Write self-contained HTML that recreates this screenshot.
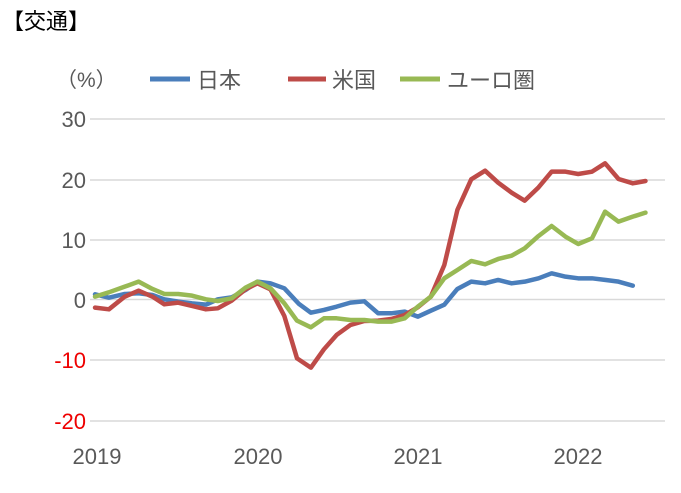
<!DOCTYPE html>
<html><head><meta charset="utf-8"><style>
body{margin:0;background:#fff;}
svg text{font-family:"Liberation Sans","Noto Sans CJK JP",sans-serif;}
</style></head><body>
<svg width="681" height="488" xmlns="http://www.w3.org/2000/svg">
<rect width="681" height="488" fill="#fff"/>
<text x="2" y="29" font-size="22" fill="#000">【交通】</text>
<text x="56" y="87" font-size="21" fill="#595959">（%）</text>
<line x1="150" y1="79" x2="190" y2="79" stroke="#4a7ebb" stroke-width="5"/>
<text x="197" y="88" font-size="22" fill="#595959">日本</text>
<line x1="288" y1="79" x2="326" y2="79" stroke="#be4b48" stroke-width="5"/>
<text x="332" y="88" font-size="22" fill="#595959">米国</text>
<line x1="400" y1="79" x2="440" y2="79" stroke="#98b954" stroke-width="5"/>
<text x="447" y="88" font-size="22" fill="#595959">ユーロ圏</text>
<g stroke="#d9d9d9" stroke-width="1.5">
<line x1="90" y1="119" x2="665" y2="119"/><line x1="90" y1="180" x2="665" y2="180"/>
<line x1="90" y1="240" x2="665" y2="240"/><line x1="90" y1="299.5" x2="665" y2="299.5"/>
<line x1="90" y1="360" x2="665" y2="360"/><line x1="90" y1="421" x2="665" y2="421"/>
</g>
<g font-size="22" fill="#595959" text-anchor="end">
<text x="86" y="127">30</text><text x="86" y="188">20</text><text x="86" y="248">10</text>
<text x="86" y="308">0</text><text x="86" y="368" fill="#e00">-10</text><text x="86" y="429" fill="#e00">-20</text>
</g>
<g font-size="22" fill="#595959" text-anchor="middle">
<text x="97" y="464">2019</text><text x="258" y="464">2020</text><text x="418" y="464">2021</text><text x="578" y="464">2022</text>
</g>
<g transform="matrix(0.396 0 0 0.3333 59.4 100)" fill="none" stroke-width="4.5" stroke-linejoin="round" stroke-linecap="round">
<polyline vector-effect="non-scaling-stroke" stroke="#4a7ebb" points="90,583 125,593 165,582 200,580 235,585 265,598 300,605 335,610 370,614 400,598 435,592 470,570 500,545 533,550 568,565 605,612 635,638 668,630 700,620 735,608 770,604 805,640 838,640 872,635 905,650 938,632 972,614 1005,567 1040,545 1075,550 1108,540 1142,550 1175,545 1210,535 1243,520 1278,530 1310,535 1345,535 1380,540 1412,545 1448,557"/>
<polyline vector-effect="non-scaling-stroke" stroke="#be4b48" points="90,623 125,628 165,590 200,572 235,590 265,613 300,608 335,618 370,628 400,625 435,602 470,568 500,550 533,568 568,648 600,775 635,803 668,748 700,705 735,675 770,663 805,662 838,657 872,645 905,622 938,590 972,495 1005,330 1040,238 1075,212 1108,248 1142,278 1175,302 1210,262 1243,215 1278,215 1310,222 1345,215 1378,190 1412,237 1448,250 1480,243"/>
<polyline vector-effect="non-scaling-stroke" stroke="#98b954" points="90,590 125,577 165,560 200,545 235,567 265,582 300,582 335,587 370,598 400,603 435,595 470,563 500,545 533,565 568,610 600,662 635,682 668,655 700,655 735,660 770,660 805,665 838,665 872,655 905,620 938,590 972,535 1005,510 1040,483 1075,493 1108,477 1142,467 1175,445 1210,408 1243,378 1278,410 1310,432 1345,415 1378,335 1412,365 1448,350 1480,338"/>
</g>
</svg>
</body></html>
